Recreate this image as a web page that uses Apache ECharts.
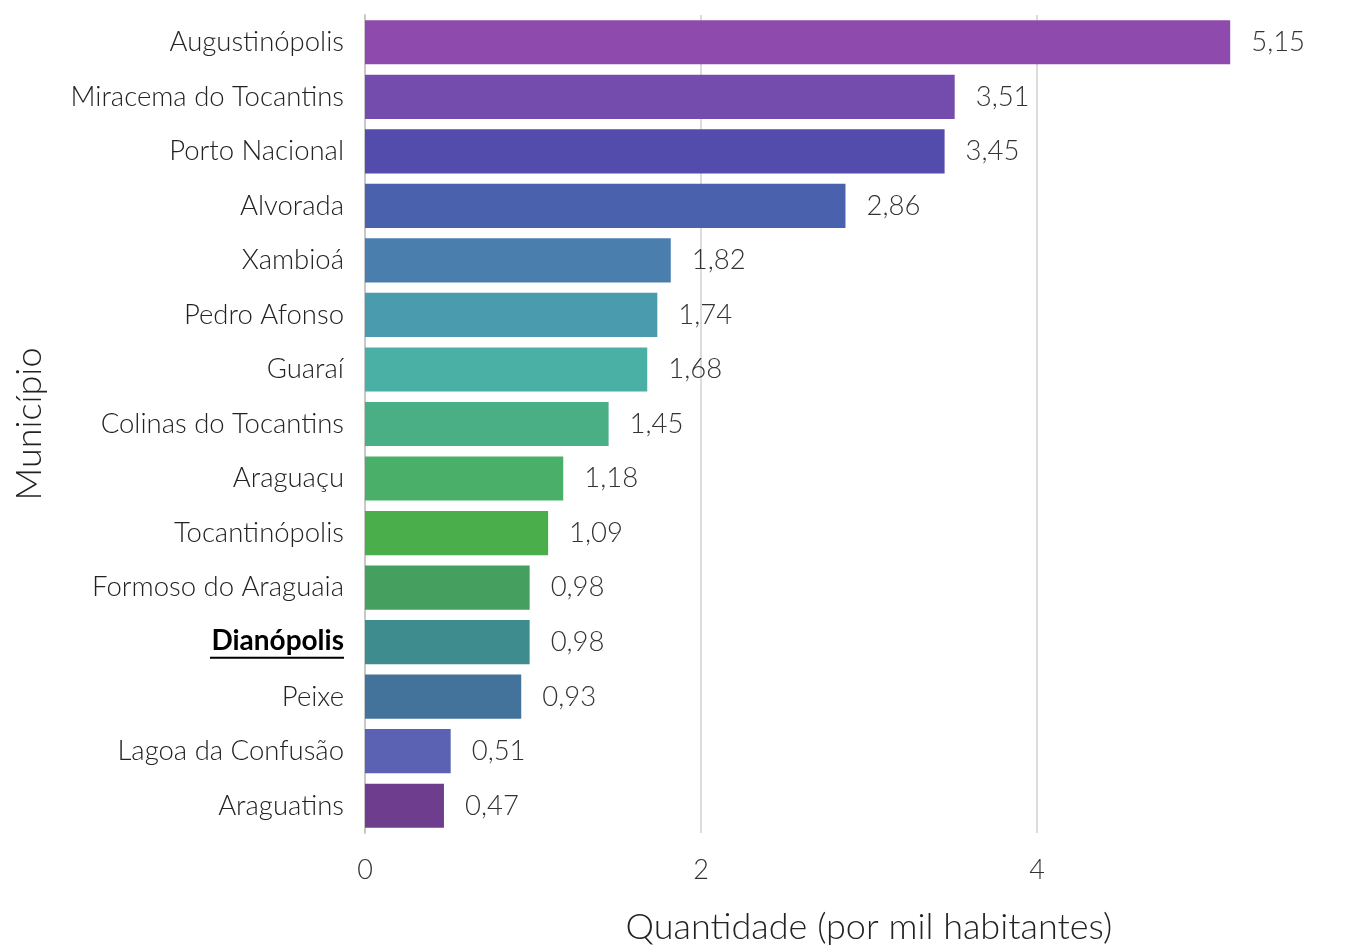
<!DOCTYPE html>
<html><head><meta charset="utf-8">
<script src="https://cdn.jsdelivr.net/npm/echarts@6/dist/echarts.min.js"></script>
<style>html,body{margin:0;padding:0;background:#fff}#c{width:1363px;height:945px}</style>
</head><body><div id="c"></div>
<script>
const categories = ['Augustinópolis','Miracema do Tocantins','Porto Nacional','Alvorada','Xambioá','Pedro Afonso','Guaraí','Colinas do Tocantins','Araguaçu','Tocantinópolis','Formoso do Araguaia','Dianópolis','Peixe','Lagoa da Confusão','Araguatins'];
const values = [5.15,3.51,3.45,2.86,1.82,1.74,1.68,1.45,1.18,1.09,0.98,0.98,0.93,0.51,0.47];
const colors = ['#8E4BAD','#734CAD','#534CAD','#4A62AD','#4A7EAD','#4A9BAD','#4AAFA5','#4AAF85','#4AAF68','#4AAF4A','#45A060','#3F8C8E','#43729B','#5B62B4','#6E3D8E'];
const xTicks = [0,2,4];
const highlight = 'Dianópolis';

const FONT = 'Lato';
const chart = echarts.init(document.getElementById('c'));
chart.setOption({
  animation:false,
  backgroundColor:'#fff',
  grid:{left:365, top:15, width:1008, height:818, containLabel:false, outerBoundsMode:'none'},
  xAxis:{
    type:'value', min:0, max:6, interval:2,
    name:'Quantidade (por mil habitantes)', nameLocation:'middle', nameGap:76,
    nameTextStyle:{fontFamily:FONT, fontWeight:300, fontSize:36, color:'#222'},
    axisLine:{show:false}, axisTick:{show:false},
    axisLabel:{fontFamily:FONT, fontWeight:300, fontSize:27, color:'#333', margin:24,
      formatter:v=> xTicks.includes(v)? String(v):''},
    splitLine:{show:true, lineStyle:{color:'#dcdcdc', width:2}}
  },
  yAxis:{
    type:'category', data:categories, inverse:true,
    name:'Município', nameLocation:'middle', nameGap:318, nameRotate:90,
    nameTextStyle:{fontFamily:FONT, fontWeight:300, fontSize:36, color:'#222'},
    axisLine:{show:true, lineStyle:{color:'#c8c8c8', width:2}}, axisTick:{show:false},
    axisLabel:{fontFamily:FONT, fontWeight:300, fontSize:27.5, color:'#222', margin:21,
      formatter:v=> v===highlight ? '{b|'+v+'}\n{u|}' : v,
      rich:{b:{fontFamily:FONT, fontWeight:'bold', fontSize:28, color:'#000', lineHeight:31},
            u:{width:134, height:2, lineHeight:2, backgroundColor:'#000'}}}
  },
  series:[{
    type:'bar', barCategoryGap:'19%',
    data: values.map((v,i)=>({value:v, itemStyle:{color:colors[i]}})),
    label:{show:true, position:'right', distance:21, fontFamily:FONT, fontWeight:300, fontSize:27.5, color:'#333',
      formatter:p=> p.value.toFixed(2).replace('.',',')}
  }]
});
</script></body></html>
